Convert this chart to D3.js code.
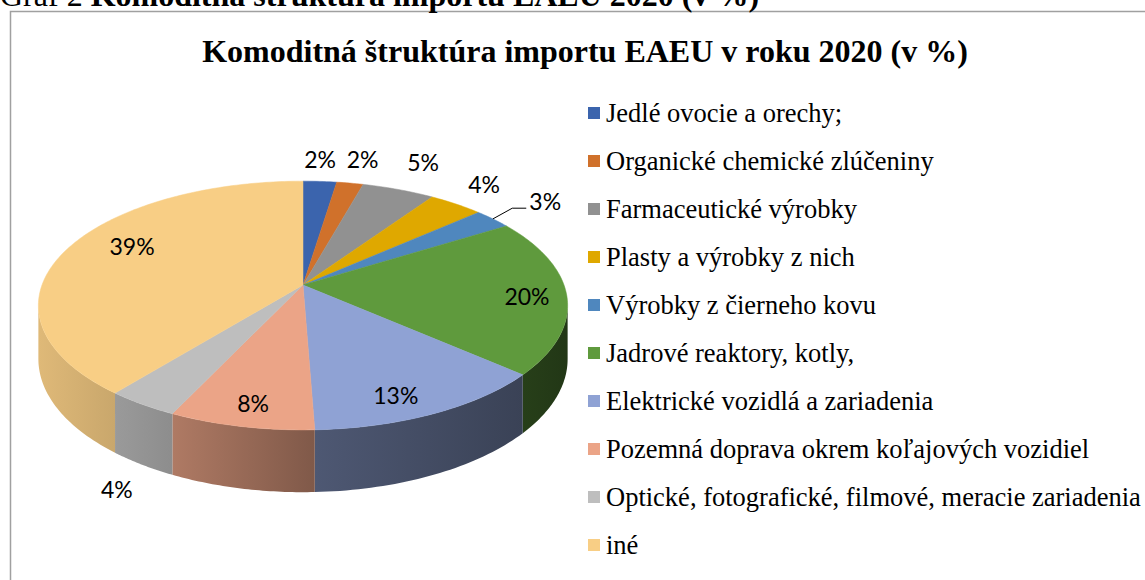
<!DOCTYPE html>
<html>
<head>
<meta charset="utf-8">
<script src="https://cdn.jsdelivr.net/npm/d3@7"></script>
<style>
  body { margin: 0; background: #fff; }
  svg { display: block; }
  .caption, .title, .legend text { font-family: 'Liberation Serif', 'Times New Roman', serif; fill: #000; }
  .pct { font-family: Lato, 'Open Sans', sans-serif; font-size: 23px; fill: #000; }
</style>
</head>
<body>
<div id="chart"></div>
<script>
const categories = [
  'Jedlé ovocie a orechy;',
  'Organické chemické zlúčeniny',
  'Farmaceutické výrobky',
  'Plasty a výrobky z nich',
  'Výrobky z čierneho kovu',
  'Jadrové reaktory, kotly,',
  'Elektrické vozidlá a zariadenia',
  'Pozemná doprava okrem koľajových vozidiel',
  'Optické, fotografické, filmové, meracie zariadenia',
  'iné'
]
const shares = [2.4, 1.9, 5.2, 3.9, 2.7, 20.4, 12.9, 7.6, 3.8, 39.2]
const colors = ['#3b64ad', '#d0712b', '#919191', '#dfa800', '#4f87be',
                '#5f9a3d', '#8fa2d4', '#eba487', '#bebebe', '#f8ce85']

const chartTitle = 'Komoditná štruktúra importu EAEU v roku 2020 (v %)'

const width = 1145, height = 580

// projection of the tilted pie (perspective, back part smaller)
const cx = 303, cy = 285, rx = 261, ry = 121, persp = 0.165, depth = 52

function project(theta, r) {
  let u = r * Math.sin(theta), v = r * Math.cos(theta)
  let s = 1 / (1 + persp * v)
  return [cx + rx * u * s, cy - ry * v * s]
}
function projectBottom(theta) {
  let p = project(theta, 1)
  let s = 1 / (1 + persp * Math.cos(theta))
  return [p[0], p[1] + depth * s]
}

// label placement (radius, angle nudge in degrees)
const labelR = [1.247, 1.275, 1.33, 1.249, 1.30, 0.85, 0.855, 0.862, 1.436, 0.766]
const labelNudge = [-0.7, 0.4, -0.3, -1.2, 0.5, 1.9, 4.2, -0.5, -9.2, 6.2]

const svg = d3.select('#chart').append('svg')
  .attr('width', width)
  .attr('height', height)

// frame of the chart area
svg.append('path')
  .attr('d', 'M10.5,' + height + 'V11.5H' + width)
  .attr('fill', 'none')
  .attr('stroke', '#a0a0a0')
  .attr('stroke-width', 1.5)

// document caption, mostly cut off above the picture
let caption = svg.append('text').attr('class', 'caption')
  .attr('x', 0).attr('y', 6)
  .style('font-size', '32px')
caption.append('tspan').text('Graf 2 ')
caption.append('tspan').style('font-weight', 'bold')
  .text('Komoditná štruktúra importu EAEU 2020 (v %)')

svg.append('text').attr('class', 'title')
  .attr('x', 585).attr('y', 62)
  .attr('text-anchor', 'middle')
  .style('font-size', '32px')
  .style('font-weight', 'bold')
  .text(chartTitle)

let pie = d3.pie().sort(null).value(d => d)
let arcs = pie(shares)
let total = d3.sum(shares)

let deg = d3.scaleLinear().domain([0, 180]).range([0, Math.PI])
let wallLight = d3.scaleLinear()
  .domain([100, 133, 180, 206, 219, 260].map(deg))
  .range([0.36, 0.41, 0.55, 0.75, 0.81, 0.9])
  .clamp(true)

function shade(color, k) {
  let c = d3.rgb(color)
  return d3.rgb(c.r * k, c.g * k, c.b * k).formatHex()
}

let defs = svg.append('defs')
let pieG = svg.append('g')

// side walls, only the front part can be seen
let visFrom = Math.PI / 2 + Math.asin(persp)
let visTo = 3 * Math.PI / 2 - Math.asin(persp)

arcs.forEach((a, i) => {
  let t0 = Math.max(a.startAngle, visFrom)
  let t1 = Math.min(a.endAngle, visTo)
  if (t1 <= t0) return
  let steps = d3.range(0, 41).map(j => t0 + (t1 - t0) * j / 40)
  let top = steps.map(t => project(t, 1))
  let bottom = steps.map(t => projectBottom(t)).reverse()
  let gid = 'wall' + i
  let grad = defs.append('linearGradient').attr('id', gid)
    .attr('gradientUnits', 'userSpaceOnUse')
    .attr('x1', top[top.length - 1][0]).attr('x2', top[0][0])
    .attr('y1', 0).attr('y2', 0)
  grad.append('stop').attr('offset', 0).attr('stop-color', shade(colors[i], wallLight(t1)))
  grad.append('stop').attr('offset', 1).attr('stop-color', shade(colors[i], wallLight(t0)))
  pieG.append('path')
    .attr('d', d3.line()(top.concat(bottom)) + 'Z')
    .attr('fill', 'url(#' + gid + ')')
})

// top faces
arcs.forEach((a, i) => {
  let n = Math.max(8, Math.ceil((a.endAngle - a.startAngle) * 60))
  let pts = [[cx, cy]]
  for (let j = 0; j <= n; j++) {
    pts.push(project(a.startAngle + (a.endAngle - a.startAngle) * j / n, 1))
  }
  pieG.append('path')
    .attr('d', d3.line()(pts) + 'Z')
    .attr('fill', colors[i])
    .attr('stroke', colors[i])
    .attr('stroke-width', 0.5)
})

// data labels
arcs.forEach((a, i) => {
  let mid = (a.startAngle + a.endAngle) / 2 + deg(labelNudge[i])
  let p = project(mid, labelR[i])
  svg.append('text').attr('class', 'pct')
    .attr('x', p[0]).attr('y', p[1])
    .attr('text-anchor', 'middle')
    .attr('dy', '0.35em')
    .text(Math.round(a.value / total * 100) + '%')
  if (i === 4) {
    let start = project((a.startAngle + a.endAngle) / 2, 1)
    svg.append('path')
      .attr('d', d3.line()([start, [p[0] - 33, p[1] + 6], [p[0] - 19, p[1] + 6]]))
      .attr('fill', 'none')
      .attr('stroke', '#000')
      .attr('stroke-width', 1)
  }
})

// legend
let legendY = d3.scalePoint().domain(categories).range([113, 545])
let legend = svg.append('g').attr('class', 'legend')
categories.forEach((c, i) => {
  let y = legendY(c)
  legend.append('rect')
    .attr('x', 588).attr('y', y - 6)
    .attr('width', 12).attr('height', 12)
    .attr('fill', colors[i])
  legend.append('text')
    .attr('x', 606).attr('y', y + 9)
    .style('font-size', '26.5px')
    .text(c)
})
</script>
</body>
</html>
